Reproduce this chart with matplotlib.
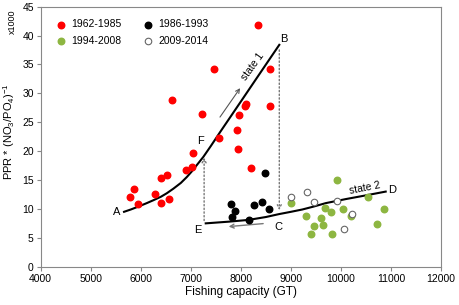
import matplotlib
matplotlib.use('Agg')
import matplotlib.pyplot as plt

plt.rcParams['font.family'] = ['Liberation Sans', 'DejaVu Sans']
plt.rcParams['mathtext.fontset'] = 'custom'
plt.rcParams['mathtext.rm'] = 'Liberation Sans'
plt.rcParams['mathtext.it'] = 'Liberation Sans:italic'
plt.rcParams['mathtext.bf'] = 'Liberation Sans:bold'

# 1962-1985 (red)
red_x = [5784, 5870, 5950, 6290, 6404, 6404, 6523, 6563, 6909, 7023, 7037,
         6623, 7229, 7469, 7569, 8335, 8581, 8581, 8088, 8100, 7962, 7916,
         7949, 8200]
red_y = [12.0, 13.45, 10.8, 12.6, 15.3, 11.1, 15.9, 11.7, 16.7, 17.2, 19.6,
         28.85, 26.4, 34.3, 22.3, 41.9, 34.3, 27.9, 27.8, 28.1, 26.3, 23.7,
         20.3, 17.0]
# 1986-1993 (black)
blk_x = [8488, 7796, 7889, 7822, 8155, 8268, 8422, 8561]
blk_y = [16.3, 10.8, 9.7, 8.55, 8.1, 10.7, 11.25, 10.0]
# 1994-2008 (green)
grn_x = [9914, 9001, 10546, 9307, 9681, 9810, 10038, 9604, 9647, 9451, 9398,
         9830, 10196, 10862, 10720]
grn_y = [15.05, 10.97, 12.08, 8.83, 10.15, 9.5, 9.97, 8.47, 7.23, 7.12, 5.66,
         5.66, 8.8, 9.9, 7.34]
# 2009-2014 (open)
opn_x = [8995, 9320, 9460, 9926, 10220, 10054]
opn_y = [12.06, 13.0, 11.2, 11.4, 9.1, 6.47]

# state curves
s1_x = [5665, 5800, 5950, 6118, 6250, 6400, 6517, 6650, 6800, 6917, 7020,
        7120, 7249, 7400, 7600, 8000, 8500, 8767]
s1_y = [9.5, 9.9, 10.4, 11.0, 11.5, 12.1, 12.7, 13.5, 14.5, 15.5, 16.5,
        17.6, 19.0, 20.9, 23.5, 28.6, 35.0, 38.4]
s2_x = [7297, 7766, 8155, 8500, 8760, 9000, 9227, 9450, 9694, 10094, 10500, 10893]
s2_y = [7.5, 7.8, 8.1, 8.6, 9.1, 9.5, 9.9, 10.4, 11.0, 11.7, 12.35, 13.0]

fig = plt.figure(figsize=(4.59, 3.05), dpi=100)
ax = fig.add_axes([0.0887, 0.1256, 0.8723, 0.8524])

ax.plot(s1_x, s1_y, color='black', lw=1.5, zorder=3)
ax.plot(s2_x, s2_y, color='black', lw=1.5, zorder=3)

# dotted transitions
ax.annotate('', xy=(8767, 9.3), xytext=(8767, 38.0),
            arrowprops=dict(arrowstyle='->', color='#777777', lw=1, ls=':',
                            mutation_scale=7))
ax.annotate('', xy=(7265, 19.4), xytext=(7265, 7.5),
            arrowprops=dict(arrowstyle='->', color='#777777', lw=1, ls=':',
                            mutation_scale=7))
ax.annotate('', xy=(7700, 6.9), xytext=(8500, 7.5),
            arrowprops=dict(arrowstyle='->', color='#777777', lw=1,
                            mutation_scale=7))
ax.annotate('', xy=(8016, 31.3), xytext=(7550, 25.5),
            arrowprops=dict(arrowstyle='->', color='#555555', lw=0.8,
                            mutation_scale=7))

ms = 22
h_red = ax.scatter(red_x, red_y, s=ms, color='#ff0000', label='1962-1985', zorder=4)
h_blk = ax.scatter(blk_x, blk_y, s=ms, color='black', label='1986-1993', zorder=4)
h_grn = ax.scatter(grn_x, grn_y, s=ms, color='#8db641', label='1994-2008', zorder=4)
h_opn = ax.scatter(opn_x, opn_y, s=ms, facecolor='white', edgecolor='#666666', lw=0.8,
                   label='2009-2014', zorder=4)

fs = 8
ax.text(5518, 9.4, 'A', fontsize=fs, ha='center', va='center')
ax.text(8848, 39.4, 'B', fontsize=fs, ha='center', va='center')
ax.text(8750, 6.9, 'C', fontsize=fs, ha='center', va='center')
ax.text(11025, 13.3, 'D', fontsize=fs, ha='center', va='center')
ax.text(7137, 6.35, 'E', fontsize=fs, ha='center', va='center')
ax.text(7195, 21.8, 'F', fontsize=fs, ha='center', va='center')
ax.text(8235, 34.7, 'state 1', fontsize=7.5, rotation=54, ha='center', va='center')
ax.text(10480, 13.6, 'state 2', fontsize=7.5, rotation=11, ha='center', va='center')

ax.set_xlim(4000, 12000)
ax.set_ylim(0, 45)
ax.set_xticks(range(4000, 12001, 1000))
ax.set_yticks(range(0, 46, 5))
ax.tick_params(labelsize=7.5, length=3, color='#888888', width=0.8, pad=2)
for sp in ax.spines.values():
    sp.set_color('#888888')
    sp.set_linewidth(0.8)

ax.set_xlabel('Fishing capacity (GT)', fontsize=8.5, labelpad=2)
ax.set_ylabel('PPR * (NO$_3$/PO$_4$)$^{-1}$', fontsize=8)
ax.yaxis.set_label_coords(-0.058, 0.52)
fig.text(0.028, 0.93, 'x1000', fontsize=6.5, rotation=90, ha='center', va='center')

ax.legend([h_red, h_grn, h_blk, h_opn],
          ['1962-1985', '1994-2008', '1986-1993', '2009-2014'],
          loc='upper left', ncol=2, frameon=False, fontsize=7.5,
          handletextpad=0.0, columnspacing=1.55, borderaxespad=0.4,
          labelspacing=0.58, bbox_to_anchor=(0.003, 0.983))

fig.savefig('out.png', dpi=100)
